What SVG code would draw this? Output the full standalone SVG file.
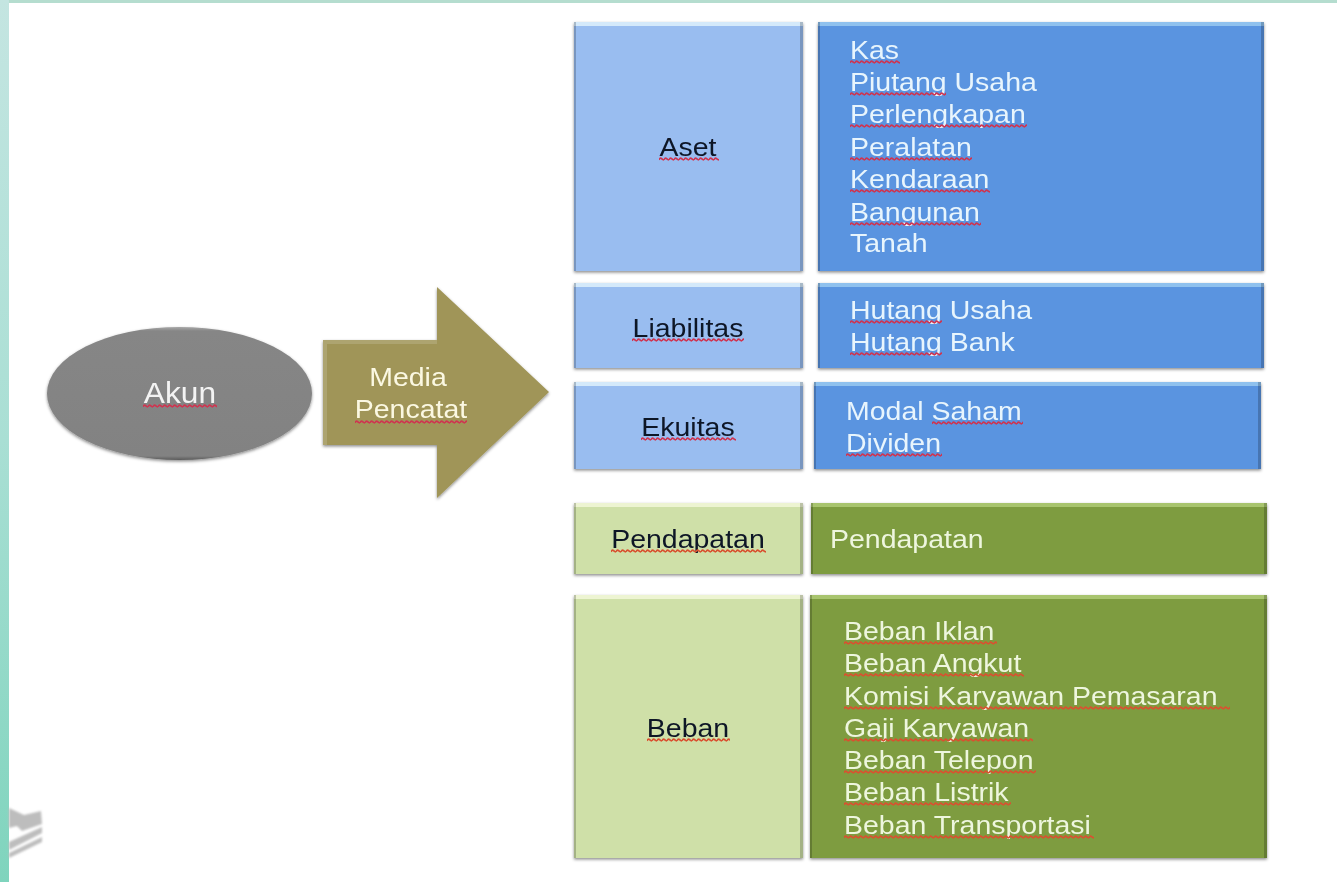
<svg xmlns="http://www.w3.org/2000/svg" width="1337" height="882" viewBox="0 0 1337 882">
<style>
text{font-family:"Liberation Sans",Arial,sans-serif;font-size:26.500px;filter:url(#t)}
.d{fill:#0d1526;text-anchor:middle}
.l{fill:#e8f5fd}
.g{fill:#eef6de}
.w{fill:#f3f3f3;text-anchor:middle}
.y{fill:#fbf8e2;text-anchor:middle}
.sq{fill:url(#wave);height:4px}
.sg{fill:url(#waveg);height:4px}
.lb{fill:#99bdf0}.db{fill:#5a94e0}.lg{fill:#cfe0a8}.dg{fill:#7e9c40}
.hlb{fill:#d4e9fa;filter:url(#b)}.hdb{fill:#8fc1ee;filter:url(#b)}.hlg{fill:#edf4d2;filter:url(#b)}.hdg{fill:#a8c46e;filter:url(#b)}
.hd{fill:#000;opacity:.2;filter:url(#b)}
</style>
<defs>
<pattern id="wave" patternUnits="userSpaceOnUse" width="5" height="4"><path d="M0 2.800Q1.250 .4 2.500 1.600T5 2.800" fill="none" stroke="#cf3450" stroke-width="1.800"/></pattern>
<pattern id="waveg" patternUnits="userSpaceOnUse" width="5" height="4"><path d="M0 2.800Q1.250 .4 2.500 1.600T5 2.800" fill="none" stroke="#d9502f" stroke-width="1.800"/></pattern>
<linearGradient id="strip" x1="0" y1="0" x2="0" y2="1"><stop offset="0" stop-color="#c4e5e1"/><stop offset=".5" stop-color="#a9dfd4"/><stop offset="1" stop-color="#7fd4bd"/></linearGradient>
<linearGradient id="oval" x1="0" y1="0" x2="0" y2="1"><stop offset="0" stop-color="#a8a8a8"/><stop offset=".03" stop-color="#868686"/><stop offset=".97" stop-color="#828282"/><stop offset="1" stop-color="#5a5a5a"/></linearGradient>
<filter id="sh" x="-10%" y="-10%" width="120%" height="120%"><feDropShadow dx="0" dy="1.500" stdDeviation="1.800" flood-color="#000" flood-opacity=".45"/></filter>
<filter id="soft"><feGaussianBlur stdDeviation="1.200"/></filter>
<filter id="b" x="-10%" y="-10%" width="120%" height="120%"><feGaussianBlur stdDeviation=".7"/></filter>
<filter id="t" x="-5%" y="-20%" width="110%" height="140%"><feGaussianBlur stdDeviation=".35"/></filter>
</defs>
<rect width="1337" height="882" fill="#fff"/>
<rect id="strip-top" width="1337" height="3" fill="#b5ddcf"/>
<rect id="strip-left" width="9" height="882" fill="url(#strip)"/>
<g id="logo" fill="#bdbdbd" filter="url(#soft)">
<path d="M9 808L24 815L41 811L42 824L22 831L17 826L9 828Z"/>
<path d="M9 842L42 827V833L9 850Z"/>
<path d="M9 853L42 837V842L9 858Z"/>
</g>
<g id="akun">
<ellipse cx="179.500" cy="393.500" rx="132.500" ry="66.500" fill="url(#oval)" filter="url(#sh)"/>
<text class="w" transform="translate(180 403) scale(1.075 1)" style="font-size:29.500px">Akun</text>
<rect class="sq" width="74" transform="translate(143,404)"/>
</g>
<g id="media-pencatat">
<path d="M323 340H437V287L549 392L437 498V445H323Z" fill="#a09558" filter="url(#sh)"/>
<path d="M323 340H437V344H327V445H323Z" fill="#fff" opacity=".14" filter="url(#b)"/>
<text class="y" transform="translate(408 386) scale(1.075 1)">Media</text>
<text class="y" transform="translate(411 418) scale(1.075 1)">Pencatat</text>
<rect class="sq" width="112" transform="translate(355,420)"/>
</g>
<g id="aset">
<rect class="lb" x="574" y="22" width="229" height="249" filter="url(#sh)"/>
<rect class="hlb" x="574" y="22" width="229" height="4"/><rect class="hd" x="800" y="22" width="3" height="249"/><rect class="hd" x="574" y="22" width="2" height="249"/>
<text class="d" transform="translate(688 156) scale(1.075 1)">Aset</text>
<rect class="sq" width="60" transform="translate(659,157)"/>
</g>
<g id="aset-items">
<rect class="db" x="818" y="22" width="446" height="249" filter="url(#sh)"/>
<rect class="hdb" x="818" y="22" width="446" height="4"/><rect class="hd" x="1261" y="22" width="3" height="249"/><rect class="hd" x="818" y="22" width="2" height="249"/>
<text class="l" transform="translate(850 59) scale(1.075 1)">Kas</text><rect class="sq" width="50" transform="translate(850,60)"/>
<text class="l" transform="translate(850 91) scale(1.075 1)">Piutang Usaha</text><rect class="sq" width="96" transform="translate(850,92)"/>
<text class="l" transform="translate(850 123) scale(1.075 1)">Perlengkapan</text><rect class="sq" width="177" transform="translate(850,124)"/>
<text class="l" transform="translate(850 156) scale(1.075 1)">Peralatan</text><rect class="sq" width="122" transform="translate(850,157)"/>
<text class="l" transform="translate(850 188) scale(1.075 1)">Kendaraan</text><rect class="sq" width="140" transform="translate(850,189)"/>
<text class="l" transform="translate(850 221) scale(1.075 1)">Bangunan</text><rect class="sq" width="131" transform="translate(850,222)"/>
<text class="l" transform="translate(850 252) scale(1.075 1)">Tanah</text>
</g>
<g id="liabilitas">
<rect class="lb" x="574" y="283" width="229" height="85" filter="url(#sh)"/>
<rect class="hlb" x="574" y="283" width="229" height="4"/><rect class="hd" x="800" y="283" width="3" height="85"/><rect class="hd" x="574" y="283" width="2" height="85"/>
<text class="d" transform="translate(688 337) scale(1.075 1)">Liabilitas</text>
<rect class="sq" width="112" transform="translate(632,338)"/>
</g>
<g id="liabilitas-items">
<rect class="db" x="818" y="283" width="446" height="85" filter="url(#sh)"/>
<rect class="hdb" x="818" y="283" width="446" height="4"/><rect class="hd" x="1261" y="283" width="3" height="85"/><rect class="hd" x="818" y="283" width="2" height="85"/>
<text class="l" transform="translate(850 319) scale(1.075 1)">Hutang Usaha</text><rect class="sq" width="92" transform="translate(850,320)"/>
<text class="l" transform="translate(850 351) scale(1.075 1)">Hutang Bank</text><rect class="sq" width="92" transform="translate(850,352)"/>
</g>
<g id="ekuitas">
<rect class="lb" x="574" y="382" width="229" height="87" filter="url(#sh)"/>
<rect class="hlb" x="574" y="382" width="229" height="4"/><rect class="hd" x="800" y="382" width="3" height="87"/><rect class="hd" x="574" y="382" width="2" height="87"/>
<text class="d" transform="translate(688 436) scale(1.075 1)">Ekuitas</text>
<rect class="sq" width="95" transform="translate(641,437)"/>
</g>
<g id="ekuitas-items">
<rect class="db" x="814" y="382" width="447" height="87" filter="url(#sh)"/>
<rect class="hdb" x="814" y="382" width="447" height="4"/><rect class="hd" x="1258" y="382" width="3" height="87"/><rect class="hd" x="814" y="382" width="2" height="87"/>
<text class="l" transform="translate(846 420) scale(1.075 1)">Modal Saham</text><rect class="sq" width="91" transform="translate(932,421)"/>
<text class="l" transform="translate(846 452) scale(1.075 1)">Dividen</text><rect class="sq" width="96" transform="translate(846,453)"/>
</g>
<g id="pendapatan">
<rect class="lg" x="574" y="503" width="229" height="71" filter="url(#sh)"/>
<rect class="hlg" x="574" y="503" width="229" height="4"/><rect class="hd" x="800" y="503" width="3" height="71"/><rect class="hd" x="574" y="503" width="2" height="71"/>
<text class="d" transform="translate(688 548) scale(1.075 1)">Pendapatan</text>
<rect class="sg" width="155" transform="translate(611,549)"/>
</g>
<g id="pendapatan-items">
<rect class="dg" x="811" y="503" width="456" height="71" filter="url(#sh)"/>
<rect class="hdg" x="811" y="503" width="456" height="4"/><rect class="hd" x="1264" y="503" width="3" height="71"/><rect class="hd" x="811" y="503" width="2" height="71"/>
<text class="g" transform="translate(830 548) scale(1.075 1)">Pendapatan</text>
</g>
<g id="beban">
<rect class="lg" x="574" y="595" width="229" height="263" filter="url(#sh)"/>
<rect class="hlg" x="574" y="595" width="229" height="4"/><rect class="hd" x="800" y="595" width="3" height="263"/><rect class="hd" x="574" y="595" width="2" height="263"/>
<text class="d" transform="translate(688 737) scale(1.075 1)">Beban</text>
<rect class="sg" width="83" transform="translate(647,738)"/>
</g>
<g id="beban-items">
<rect class="dg" x="810" y="595" width="457" height="263" filter="url(#sh)"/>
<rect class="hdg" x="810" y="595" width="457" height="4"/><rect class="hd" x="1264" y="595" width="3" height="263"/><rect class="hd" x="810" y="595" width="2" height="263"/>
<text class="g" transform="translate(844 640) scale(1.075 1)">Beban Iklan</text><rect class="sg" width="153" transform="translate(844,641)"/>
<text class="g" transform="translate(844 672) scale(1.075 1)">Beban Angkut</text><rect class="sg" width="180" transform="translate(844,673)"/>
<text class="g" transform="translate(844 705) scale(1.075 1)">Komisi Karyawan Pemasaran</text><rect class="sg" width="386" transform="translate(844,706)"/>
<text class="g" transform="translate(844 737) scale(1.075 1)">Gaji Karyawan</text><rect class="sg" width="189" transform="translate(844,738)"/>
<text class="g" transform="translate(844 769) scale(1.075 1)">Beban Telepon</text><rect class="sg" width="192" transform="translate(844,770)"/>
<text class="g" transform="translate(844 801) scale(1.075 1)">Beban Listrik</text><rect class="sg" width="167" transform="translate(844,802)"/>
<text class="g" transform="translate(844 834) scale(1.075 1)">Beban Transportasi</text><rect class="sg" width="250" transform="translate(844,835)"/>
</g>
<g id="connectors"/>
</svg>
